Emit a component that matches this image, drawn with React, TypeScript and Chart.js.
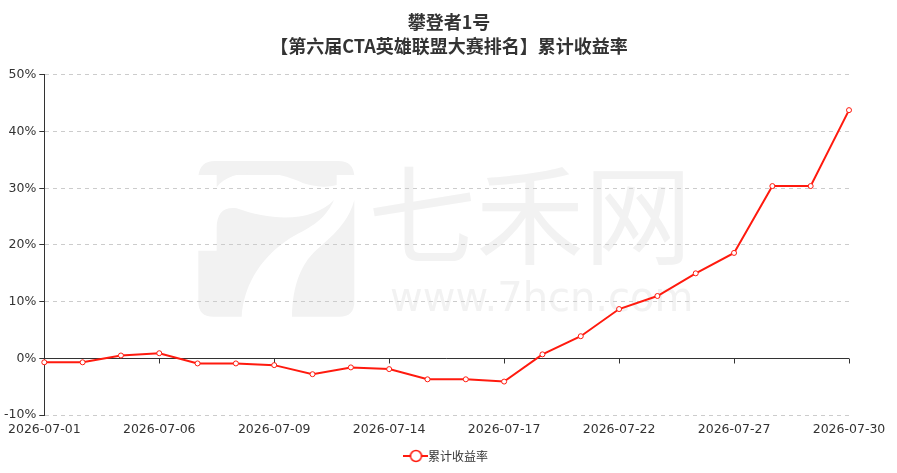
import React, { useEffect, useRef } from "react";
import { Chart, registerables } from "chart.js";

Chart.register(...registerables);

const titleLines = ["攀登者1号", "【第六届CTA英雄联盟大赛排名】累计收益率"];
const seriesName = "累计收益率";
const dates = [
  "2026-07-01", "2026-07-02", "2026-07-03", "2026-07-06", "2026-07-07", "2026-07-08",
  "2026-07-09", "2026-07-10", "2026-07-13", "2026-07-14", "2026-07-15", "2026-07-16",
  "2026-07-17", "2026-07-20", "2026-07-21", "2026-07-22", "2026-07-23", "2026-07-24",
  "2026-07-27", "2026-07-28", "2026-07-29", "2026-07-30",
];
const returns = [
  -0.7, -0.7, 0.5, 0.9, -0.9, -0.9, -1.2, -2.8, -1.6, -1.9, -3.7, -3.7,
  -4.1, 0.7, 3.9, 8.7, 11.0, 15.0, 18.6, 30.4, 30.4, 43.8,
];
const yMin = -10;
const yMax = 50;
const yStep = 10;
const labelEvery = 3;

const LINE = "#ff1a0e";
const TEXT = "#333";
const TICK_FONT = "'DejaVu Sans', sans-serif";
const CJK_FONT = "'Noto Sans CJK SC', sans-serif";

function legendIcon(): HTMLCanvasElement {
  const c = document.createElement("canvas");
  const dpr = window.devicePixelRatio || 1;
  c.width = 25 * dpr;
  c.height = 14 * dpr;
  c.style.width = "25px";
  c.style.height = "14px";
  const ctx = c.getContext("2d")!;
  ctx.scale(dpr, dpr);
  ctx.strokeStyle = LINE;
  ctx.lineWidth = 2;
  ctx.beginPath();
  ctx.moveTo(0, 7);
  ctx.lineTo(25, 7);
  ctx.stroke();
  ctx.beginPath();
  ctx.arc(12.5, 7, 5.5, 0, Math.PI * 2);
  ctx.fillStyle = "#fff";
  ctx.fill();
  ctx.lineWidth = 1.5;
  ctx.stroke();
  return c;
}

const watermark = {
  id: "watermark",
  beforeDraw(chart: any) {
    const ctx = chart.ctx;
    ctx.save();
    ctx.fillStyle = "#f2f2f2";
    // logo drawn in a 3x local frame
    ctx.translate(190, 150);
    ctx.scale(1 / 3, 1 / 3);
    ctx.beginPath();
    ctx.moveTo(25, 75);
    ctx.lineTo(25, 78);
    ctx.quadraticCurveTo(30, 33, 75, 33);
    ctx.lineTo(445, 33);
    ctx.quadraticCurveTo(490, 33, 493, 78);
    ctx.lineTo(493, 75);
    ctx.closePath();
    ctx.fill();
    ctx.beginPath();
    ctx.moveTo(80, 74);
    ctx.lineTo(80, 112);
    ctx.bezierCurveTo(120, 55, 250, 55, 340, 100);
    ctx.quadraticCurveTo(400, 118, 440, 105);
    ctx.lineTo(440, 74);
    ctx.closePath();
    ctx.fill();
    ctx.beginPath();
    ctx.moveTo(80, 302);
    ctx.lineTo(80, 235);
    ctx.bezierCurveTo(80, 190, 100, 170, 140, 175);
    ctx.bezierCurveTo(250, 215, 370, 215, 432, 150);
    ctx.bezierCurveTo(400, 220, 350, 235, 300, 265);
    ctx.bezierCurveTo(200, 330, 160, 420, 155, 500);
    ctx.lineTo(70, 500);
    ctx.quadraticCurveTo(25, 500, 25, 455);
    ctx.lineTo(25, 302);
    ctx.closePath();
    ctx.fill();
    ctx.beginPath();
    ctx.moveTo(493, 150);
    ctx.lineTo(493, 455);
    ctx.quadraticCurveTo(493, 500, 448, 500);
    ctx.lineTo(306, 500);
    ctx.bezierCurveTo(308, 400, 335, 335, 390, 290);
    ctx.bezierCurveTo(450, 240, 480, 200, 493, 150);
    ctx.closePath();
    ctx.fill();
    ctx.restore();
    ctx.save();
    ctx.fillStyle = "#f2f2f2";
    ctx.font = "108px 'Noto Sans CJK SC'";
    ctx.textAlign = "left";
    ctx.textBaseline = "middle";
    ctx.fillText("七禾网", 368, 215);
    ctx.font = "40px 'DejaVu Sans'";
    ctx.fillText("www.7hcn.com", 390, 301);
    ctx.restore();
  },
};

const zeroAxis = {
  id: "zeroAxis",
  beforeDatasetsDraw(chart: any) {
    const ctx = chart.ctx;
    const xs = chart.scales.x;
    const ys = chart.scales.y;
    const y0 = Math.round(ys.getPixelForValue(0)) + 0.5;
    ctx.save();
    ctx.strokeStyle = TEXT;
    ctx.lineWidth = 1;
    ctx.setLineDash([]);
    ctx.beginPath();
    ctx.moveTo(xs.left, y0);
    ctx.lineTo(xs.right, y0);
    for (let i = 0; i < dates.length; i += labelEvery) {
      const px = Math.round(xs.getPixelForValue(i)) + 0.5;
      ctx.moveTo(px, y0);
      ctx.lineTo(px, y0 + 5);
    }
    ctx.stroke();
    ctx.restore();
  },
};

export default function App() {
  const ref = useRef<HTMLCanvasElement>(null);
  useEffect(() => {
    document.body.style.margin = "0";
    const icon = legendIcon();
    const chart = new Chart(ref.current!, {
      type: "line",
      data: {
        labels: dates,
        datasets: [
          {
            label: seriesName,
            data: returns,
            borderColor: LINE,
            backgroundColor: "#fff",
            borderWidth: 2,
            pointRadius: 2.5,
            pointBorderWidth: 1,
            pointBorderColor: LINE,
            pointBackgroundColor: "#fff",
            tension: 0,
          },
        ],
      },
      plugins: [watermark, zeroAxis],
      options: {
        animation: false,
        responsive: false,
        devicePixelRatio: window.devicePixelRatio || 1,
        layout: { padding: { left: 1, right: 0, top: 8, bottom: 1 } },
        plugins: {
          title: {
            display: true,
            text: titleLines,
            color: TEXT,
            font: { family: CJK_FONT, size: 18, weight: "bold", lineHeight: 1.3333 },
            padding: { top: 2, bottom: 17 },
          },
          legend: {
            position: "bottom",
            labels: {
              color: TEXT,
              font: { family: CJK_FONT, size: 12 },
              usePointStyle: true,
              generateLabels: () => [
                {
                  text: seriesName,
                  pointStyle: icon,
                  fontColor: TEXT,
                  strokeStyle: LINE,
                  fillStyle: "#fff",
                  datasetIndex: 0,
                  hidden: false,
                },
              ],
              padding: 6,
            },
          },
          tooltip: { enabled: false },
        },
        scales: {
          x: {
            offset: false,
            grid: { display: false, drawTicks: false },
            border: { display: false },
            afterFit: (scale: any) => {
              scale.paddingRight = Math.max(scale.paddingRight, 48);
            },
            ticks: {
              autoSkip: false,
              maxRotation: 0,
              color: TEXT,
              font: { family: TICK_FONT, size: 12.5 },
              padding: 7,
              callback: (_v: any, i: number) => (i % labelEvery === 0 ? dates[i] : ""),
            },
          },
          y: {
            min: yMin,
            max: yMax,
            ticks: {
              stepSize: yStep,
              color: TEXT,
              font: { family: TICK_FONT, size: 12.5 },
              padding: 3,
              callback: (v: any) => v + "%",
            },
            grid: {
              color: "#ccc",
              tickColor: TEXT,
              tickLength: 5,
              tickBorderDash: [],
            },
            border: { display: true, color: TEXT, width: 1, dash: [4, 4] },
          },
        },
      },
    } as any);
    return () => chart.destroy();
  }, []);
  return (
    <div style={{ width: 897, height: 473, background: "#fff" }}>
      <canvas ref={ref} width={897} height={473} style={{ width: 897, height: 473 }} />
    </div>
  );
}
